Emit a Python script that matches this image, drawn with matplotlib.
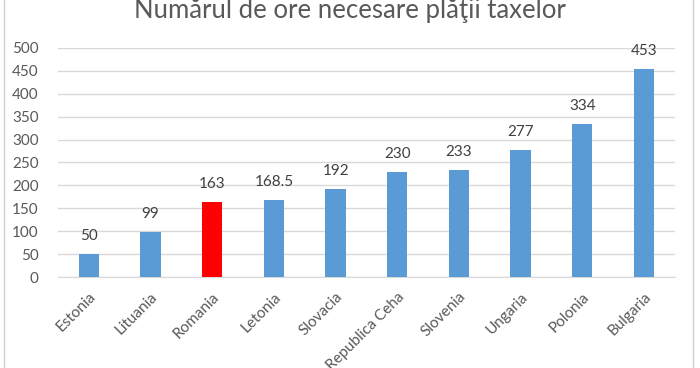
import matplotlib.pyplot as plt
from matplotlib.lines import Line2D

tari = ["Estonia", "Lituania", "Romania", "Letonia", "Slovacia",
        "Republica Ceha", "Slovenia", "Ungaria", "Polonia", "Bulgaria"]
ore = [50, 99, 163, 168.5, 192, 230, 233, 277, 334, 453]
etichete = ["50", "99", "163", "168.5", "192", "230", "233", "277", "334", "453"]
culori = ["#5B9BD5"] * len(tari)
culori[tari.index("Romania")] = "#FF0000"

plt.rcParams['font.family'] = ['Lato', 'DejaVu Sans']

fig = plt.figure(figsize=(7, 3.68), dpi=100)
ax = fig.add_axes([0.083, 0.247, 0.881, 0.623])

x = range(len(tari))
bars = ax.bar(x, ore, width=0.33, color=culori, zorder=3)
for xi, v, t in zip(x, ore, etichete):
    ax.text(xi, v + 24, t, ha="center", va="bottom", fontsize=11, color="#404040")

ax.set_xlim(-0.5, len(tari) - 0.5)
ax.set_ylim(0, 500)
ax.set_yticks(range(0, 501, 50))
ax.grid(axis="y", color="#D9D9D9", linewidth=1, zorder=0)
ax.set_xticks(list(x))
ax.set_xticklabels(tari, rotation=45, ha="right", rotation_mode="anchor",
                   fontsize=11, color="#595959")
ax.tick_params(axis="y", labelsize=11, labelcolor="#595959", length=0, pad=14)
ax.tick_params(axis="x", length=0, pad=9)
for s in ["top", "right", "left"]:
    ax.spines[s].set_visible(False)
ax.spines["bottom"].set_color("#D9D9D9")

fig.text(0.5, 0.952, "Numărul de ore necesare plăţii taxelor", ha="center",
         va="baseline", fontsize=18.5, color="#595959")

fig.add_artist(Line2D([0.005, 0.005], [0, 1], color="#D0D0D0", lw=1, transform=fig.transFigure))
fig.add_artist(Line2D([0.99, 0.99], [0, 1], color="#D0D0D0", lw=1, transform=fig.transFigure))

fig.savefig("out.png", dpi=100)
